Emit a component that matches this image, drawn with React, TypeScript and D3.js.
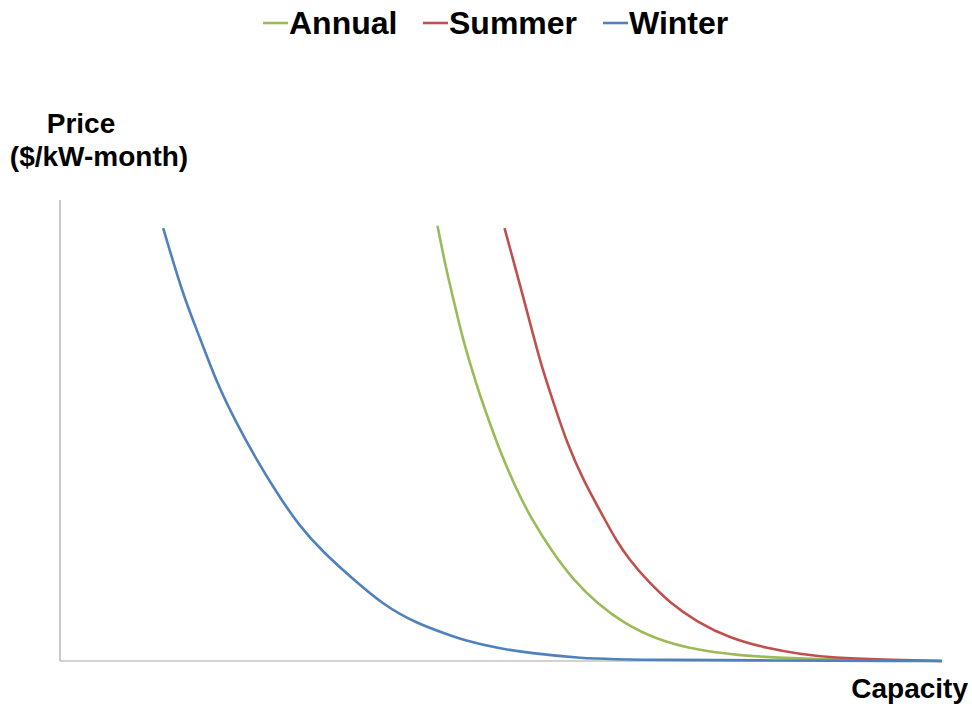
import { useRef, useEffect } from "react";
import { select, scaleLinear, line, curveBasis } from "d3";

// Series names and colours
const seriesNames = ["Annual", "Summer", "Winter"];
const seriesColors = ["#9BBB59", "#C0504D", "#4F81BD"];

// Capacity (x) and price (y) readings per series
const annualX = [428, 438, 448, 457, 469, 476, 490, 503, 518, 533, 559, 582, 609, 639, 677, 722, 763, 839, 1000];
const annualY = [94.4, 84.8, 76.9, 69.6, 62.0, 57.7, 50.1, 43.6, 37.1, 31.3, 23.4, 17.6, 12.5, 8.2, 4.6, 2.4, 1.3, 0.4, 0];
const summerX = [504, 518, 533, 546, 561, 575, 593, 616, 631, 646, 665, 692, 722, 760, 801, 839, 877, 933, 1000];
const summerY = [93.9, 84.1, 73.3, 63.8, 55.2, 47.2, 39.3, 31.3, 26.0, 21.9, 17.6, 12.5, 8.5, 4.9, 2.8, 1.5, 0.7, 0.3, 0];
const winterX = [117, 140, 159, 178, 200, 223, 246, 272, 298, 329, 367, 404, 442, 457, 495, 533, 590, 646, 1000];
const winterY = [93.9, 79.0, 70.0, 60.2, 51.6, 43.6, 36.4, 29.1, 23.7, 18.3, 12.1, 8.2, 5.6, 4.6, 2.8, 1.7, 0.6, 0.2, 0];

const W = 972;
const H = 704;

export default function App() {
  const svgRef = useRef<SVGSVGElement | null>(null);

  useEffect(() => {
    const svg = select(svgRef.current);
    svg.selectAll("*").remove();

    const xScale = scaleLinear().domain([0, 1000]).range([60, 942]);
    const yScale = scaleLinear().domain([0, 100]).range([661, 200]);

    // Axes (plain lines, no ticks)
    svg.append("line")
      .attr("x1", xScale(0)).attr("x2", xScale(0))
      .attr("y1", 200).attr("y2", yScale(0))
      .attr("stroke", "#a6a6a6").attr("stroke-width", 1.2);
    svg.append("line")
      .attr("x1", xScale(0)).attr("x2", xScale(1000))
      .attr("y1", yScale(0)).attr("y2", yScale(0))
      .attr("stroke", "#a6a6a6").attr("stroke-width", 1.2);

    const series = [
      { xs: annualX, ys: annualY },
      { xs: summerX, ys: summerY },
      { xs: winterX, ys: winterY },
    ];

    // basis curve smooths out reading noise
    const gen = line<[number, number]>()
      .x((d) => xScale(d[0]))
      .y((d) => yScale(d[1]))
      .curve(curveBasis);

    series.forEach((s, i) => {
      const pts = s.xs.map((x, j) => [x, s.ys[j]] as [number, number]);
      svg.append("path")
        .attr("d", gen(pts))
        .attr("fill", "none")
        .attr("stroke", seriesColors[i])
        .attr("stroke-width", 2.6)
        .attr("stroke-linejoin", "round");
    });

    const font = "Liberation Sans, Arial, sans-serif";

    // Legend
    const legendX = [263, 423, 603];
    const legend = svg.append("g");
    seriesNames.forEach((name, i) => {
      legend.append("line")
        .attr("x1", legendX[i]).attr("x2", legendX[i] + 25)
        .attr("y1", 23).attr("y2", 23)
        .attr("stroke", seriesColors[i]).attr("stroke-width", 2.6);
      legend.append("text")
        .attr("x", legendX[i] + 26)
        .attr("y", 34)
        .attr("font-size", 32)
        .attr("font-weight", "bold")
        .attr("font-family", font)
        .text(name);
    });

    // Axis titles
    svg.append("text")
      .attr("x", 81).attr("y", 133)
      .attr("text-anchor", "middle")
      .attr("font-size", 28).attr("font-weight", "bold").attr("font-family", font)
      .text("Price");
    svg.append("text")
      .attr("x", 99).attr("y", 166)
      .attr("text-anchor", "middle")
      .attr("font-size", 28).attr("font-weight", "bold").attr("font-family", font)
      .text("($/kW-month)");
    svg.append("text")
      .attr("x", 968).attr("y", 698)
      .attr("text-anchor", "end")
      .attr("font-size", 28).attr("font-weight", "bold").attr("font-family", font)
      .text("Capacity");
  }, []);

  return (
    <svg
      ref={svgRef}
      width={W}
      height={H}
      style={{ position: "absolute", left: 0, top: 0, background: "#fff" }}
    />
  );
}
